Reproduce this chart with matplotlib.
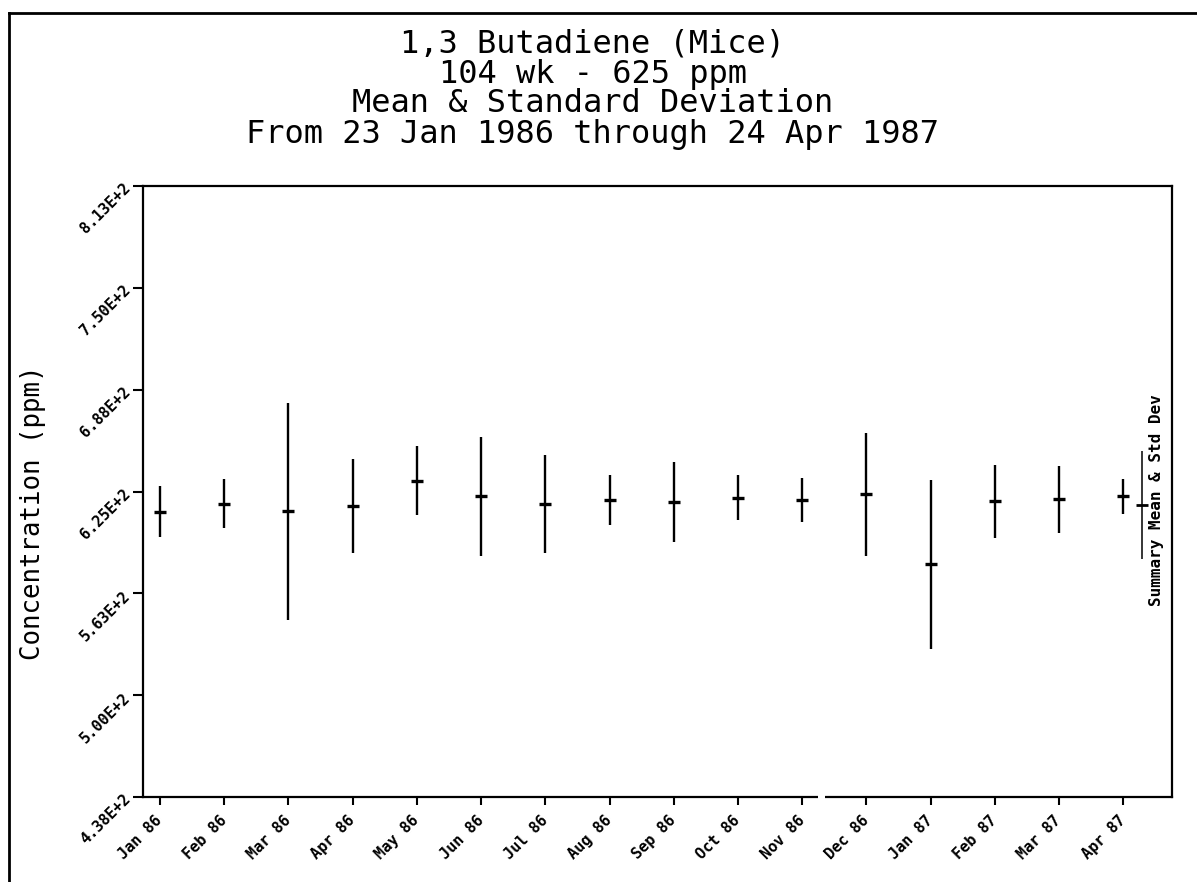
import numpy as np
import matplotlib
matplotlib.use("Agg")
import matplotlib.pyplot as plt
from matplotlib.lines import Line2D

# datos
months = ['Jan 86', 'Feb 86', 'Mar 86', 'Apr 86', 'May 86', 'Jun 86', 'Jul 86', 'Aug 86',
          'Sep 86', 'Oct 86', 'Nov 86', 'Dec 86', 'Jan 87', 'Feb 87', 'Mar 87', 'Apr 87']
means = [612.5, 617.5, 612.8, 616.1, 631.6, 622.0, 617.2, 619.8,
         618.4, 621.3, 619.9, 623.3, 580.2, 619.0, 620.2, 622.0]
sds = [15.7, 15.2, 66.6, 28.9, 21.3, 36.3, 29.9, 15.2,
       24.6, 13.7, 13.5, 37.7, 51.8, 22.5, 20.6, 10.8]
summary_mean = 616.7
summary_sd = 33.0
summary_pos = 15.3

ytick_vals = [437.5, 500.0, 562.5, 625.0, 687.5, 750.0, 812.5]
ytick_labels = ['4.38E+2', '5.00E+2', '5.63E+2', '6.25E+2', '6.88E+2', '7.50E+2', '8.13E+2']

title_lines = ['1,3 Butadiene (Mice)', '104 wk - 625 ppm',
               'Mean & Standard Deviation', 'From 23 Jan 1986 through 24 Apr 1987']

W, H = 1197, 882
fig = plt.figure(figsize=(W / 100, H / 100), dpi=100)
ax = fig.add_axes([143 / W, 1 - 797 / H, (1172 - 143) / W, (797 - 186) / H])

x = np.arange(len(months))
ax.errorbar(x, means, yerr=sds, fmt='_', color='black', ms=9, mew=2.4,
            elinewidth=1.7, capsize=0)
ax.errorbar([summary_pos], [summary_mean], yerr=[summary_sd], fmt='_', color='black',
            ms=8, mew=2.0, elinewidth=1.1, capsize=0)

ax.set_xlim(-0.265, 15.76)
ax.set_ylim(437.5, 812.5)

tick_font = dict(family='DejaVu Sans Mono', fontweight='bold', fontsize=11)
ax.set_xticks(x)
ax.set_xticklabels(months, rotation=45, ha='right', va='center',
                   rotation_mode='anchor', **tick_font)
ax.set_yticks(ytick_vals)
ax.set_yticklabels(ytick_labels, rotation=45, ha='right', va='center',
                   rotation_mode='anchor', **tick_font)
ax.tick_params(axis='x', direction='out', length=6, width=1.5, pad=9)
ax.tick_params(axis='y', direction='out', length=7, width=1.5, pad=4)

for s in ax.spines.values():
    s.set_linewidth(1.6)

# hueco en el eje inferior entre Nov y Dec
ax.plot([10.25, 10.36], [437.5, 437.5], color='white', lw=3, clip_on=False,
        zorder=5, solid_capstyle='butt')

ax.set_ylabel('Concentration (ppm)', fontsize=18.5, family='DejaVu Sans Mono')
ax.yaxis.set_label_coords(-0.094, 0.465)

ax.text(summary_pos + 0.22, 620, 'Summary Mean & Std Dev', rotation=90,
        ha='center', va='center', family='DejaVu Sans Mono', fontweight='bold',
        fontsize=11.5)

title_y = [44, 74, 104, 134]
for line, ty in zip(title_lines, title_y):
    fig.text(593 / W, 1 - ty / H, line, ha='center', va='center',
             fontsize=23, family='DejaVu Sans Mono')

# marco exterior
fig.add_artist(Line2D([9 / W, 9 / W], [0, 1 - 13 / H], color='black', lw=2,
                      transform=fig.transFigure))
fig.add_artist(Line2D([9 / W, 1], [1 - 13 / H, 1 - 13 / H], color='black', lw=2,
                      transform=fig.transFigure))

fig.savefig('out.png', dpi=100)
